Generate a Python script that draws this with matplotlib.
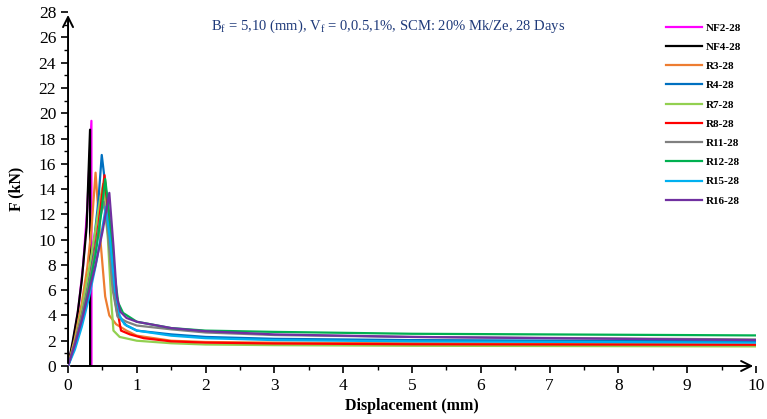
import numpy as np
import matplotlib.pyplot as plt

plt.rcParams['font.family'] = ['Liberation Serif', 'DejaVu Serif']
plt.rcParams['mathtext.fontset'] = 'custom'
plt.rcParams['mathtext.rm'] = 'Liberation Serif'

labels = ["NF2-28", "NF4-28", "R3-28", "R4-28", "R7-28", "R8-28", "R11-28", "R12-28", "R15-28", "R16-28"]
colors = ["#FF00FF", "#000000", "#ED7D31", "#0070C0", "#92D050", "#FF0000", "#808080", "#00B050", "#00B0F0", "#7030A0"]

# displacement (mm) / force (kN)
nf2_x = [0, 0.07, 0.15, 0.22, 0.28, 0.34, 0.341]
nf2_y = [0, 1.8, 4.5, 8.0, 12.5, 19.4, 0]
nf4_x = [0, 0.07, 0.14, 0.2, 0.27, 0.32, 0.321]
nf4_y = [0, 2.0, 4.2, 6.8, 11.0, 18.7, 0]
r3_x = [0, 0.1, 0.2, 0.28, 0.34, 0.4, 0.47, 0.54, 0.6, 0.7, 0.85, 1.0, 1.5, 2, 3, 5, 10]
r3_y = [0, 2.2, 5.0, 7.8, 10.8, 15.3, 10.0, 5.5, 4.0, 3.3, 2.8, 2.4, 2.0, 1.9, 1.85, 1.8, 1.7]
r4_x = [0, 0.1, 0.2, 0.3, 0.38, 0.44, 0.49, 0.56, 0.63, 0.72, 0.85, 1.0, 1.5, 2, 3, 5, 10]
r4_y = [0, 1.6, 3.8, 6.8, 10.0, 13.0, 16.7, 13.5, 7.0, 4.0, 3.2, 2.8, 2.5, 2.3, 2.15, 2.05, 1.95]
r7_x = [0, 0.1, 0.2, 0.3, 0.4, 0.46, 0.51, 0.58, 0.63, 0.66, 0.75, 1.0, 1.5, 2, 3, 5, 10]
r7_y = [0, 2.0, 4.5, 7.5, 10.8, 13.0, 14.4, 10.0, 5.0, 2.8, 2.3, 2.0, 1.8, 1.7, 1.65, 1.6, 1.55]
r8_x = [0, 0.1, 0.2, 0.3, 0.38, 0.45, 0.53, 0.6, 0.67, 0.73, 0.77, 0.9, 1.1, 1.5, 2, 3, 5, 10]
r8_y = [0, 1.8, 4.0, 6.3, 8.8, 11.5, 15.1, 11.0, 6.0, 4.0, 2.8, 2.5, 2.2, 1.95, 1.85, 1.78, 1.72, 1.68]
r11_x = [0, 0.1, 0.2, 0.3, 0.4, 0.47, 0.52, 0.58, 0.65, 0.72, 0.85, 1.0, 1.5, 2, 3, 5, 10]
r11_y = [0, 1.8, 4.0, 6.5, 9.2, 11.8, 13.0, 10.5, 6.0, 3.9, 3.5, 3.2, 2.9, 2.65, 2.45, 2.3, 2.1]
r12_x = [0, 0.1, 0.2, 0.3, 0.4, 0.48, 0.54, 0.6, 0.67, 0.73, 0.8, 1.0, 1.5, 2, 3, 5, 10]
r12_y = [0, 1.6, 3.6, 6.0, 8.8, 12.0, 14.8, 12.0, 7.5, 5.0, 4.2, 3.5, 3.0, 2.8, 2.7, 2.55, 2.42]
r15_x = [0, 0.1, 0.2, 0.3, 0.4, 0.48, 0.55, 0.61, 0.68, 0.75, 0.82, 1.0, 1.5, 2, 3, 5, 10]
r15_y = [0, 1.3, 3.1, 5.3, 7.9, 10.3, 12.6, 10.0, 6.0, 4.0, 3.3, 2.8, 2.4, 2.2, 2.05, 1.95, 1.85]
r16_x = [0, 0.1, 0.2, 0.3, 0.4, 0.5, 0.6, 0.66, 0.71, 0.76, 0.85, 1.0, 1.5, 2, 3, 5, 10]
r16_y = [0, 1.7, 3.6, 5.8, 8.0, 10.6, 13.7, 9.5, 5.5, 4.3, 3.8, 3.5, 3.0, 2.75, 2.5, 2.3, 2.05]

xs = [nf2_x, nf4_x, r3_x, r4_x, r7_x, r8_x, r11_x, r12_x, r15_x, r16_x]
ys = [nf2_y, nf4_y, r3_y, r4_y, r7_y, r8_y, r11_y, r12_y, r15_y, r16_y]

fig = plt.figure(figsize=(7.67, 4.19), dpi=100)
ax = fig.add_axes([0.0887, 0.1265, 0.897, 0.8445])

for x, y, c, lab in zip(xs, ys, colors, labels):
    ax.plot(x, y, color=c, lw=1.6, label=lab)

ax.set_xlim(0, 10)
ax.set_ylim(0, 28)
ax.set_xticks(np.arange(0, 11, 1))
ax.set_yticks(np.arange(0, 29, 2))
ax.set_xticks(np.arange(0, 10.01, 0.5), minor=True)
ax.set_yticks(np.arange(0, 28.01, 1), minor=True)
ax.tick_params(axis='both', which='major', labelsize=12.5, length=5, width=1.2)
ax.tick_params(axis='both', which='minor', length=3, width=1)

for s in ax.spines.values():
    s.set_visible(False)
ax.annotate('', xy=(1.0, 0), xytext=(0, 0), xycoords='axes fraction',
            arrowprops=dict(arrowstyle='->', lw=1.4, color='black', mutation_scale=18))
ax.annotate('', xy=(0, 1.0), xytext=(0, 0), xycoords='axes fraction',
            arrowprops=dict(arrowstyle='->', lw=1.4, color='black', mutation_scale=18))

ax.set_xlabel("Displacement (mm)", fontsize=11.5, fontweight='bold', labelpad=3)
ax.set_ylabel("F (kN)", fontsize=11.5, fontweight='bold', labelpad=10)

ax.text(0.465, 0.985, r"B$_\mathrm{f}$ = 5,10 (mm), V$_\mathrm{f}$ = 0,0.5,1%, SCM: 20% Mk/Ze, 28 Days",
        transform=ax.transAxes, ha='center', va='top', fontsize=10.5, color='#1F3A7A')

ax.legend(loc='upper left', bbox_to_anchor=(0.855, 0.998), frameon=False,
          prop={'weight': 'bold', 'size': 8}, handlelength=3.2, labelspacing=0.85, handletextpad=0.4)

fig.savefig("out.png", dpi=100)
